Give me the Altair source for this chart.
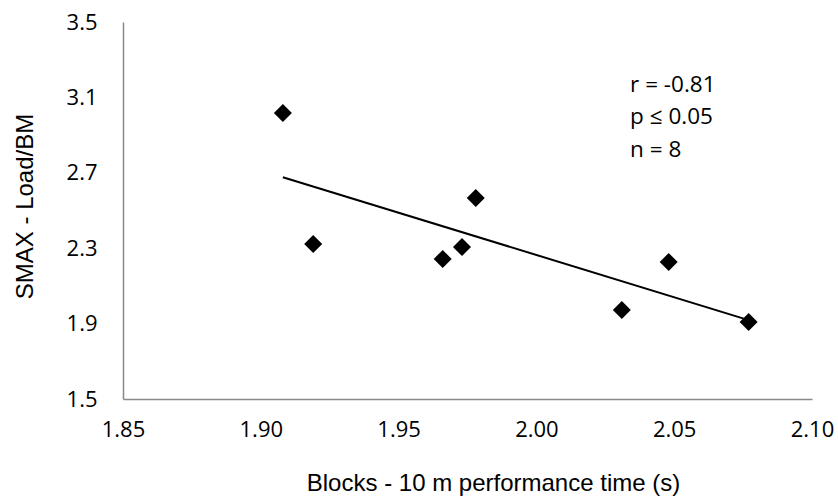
import altair as alt
import pandas as pd

# Data
blocks_time = [1.908, 1.919, 1.966, 1.973, 1.978, 2.031, 2.048, 2.077]
smax_load_bm = [3.017, 2.322, 2.243, 2.306, 2.566, 1.972, 2.227, 1.908]

x_ticks = [1.85, 1.90, 1.95, 2.00, 2.05, 2.10]
y_ticks = [1.5, 1.9, 2.3, 2.7, 3.1, 3.5]

note_lines = ["r = -0.81", "p \u2264 0.05", "n = 8"]
note_x = [2.034, 2.034, 2.034]
note_y = [3.129, 2.959, 2.784]

df = pd.DataFrame({"x": blocks_time, "y": smax_load_bm})
notes = pd.DataFrame({"x": note_x, "y": note_y, "t": note_lines})

xscale = alt.Scale(domain=[1.85, 2.10], nice=False, zero=False)
yscale = alt.Scale(domain=[1.5, 3.5], nice=False, zero=False)

xaxis = alt.Axis(
    title="Blocks - 10 m performance time (s)",
    values=x_ticks, format=".2f", grid=False, ticks=False,
    domainColor="#898989", domainWidth=1.5,
    labelFont="Open Sans", labelFontSize=22, labelColor="#000000",
    labelPadding=20, labelFlush=False,
    titleFont="Liberation Sans", titleFontSize=24, titleFontWeight="normal",
    titleColor="#000000", titleX=370, titleY=91, titleBaseline="alphabetic",
    titleAlign="center",
)
yaxis = alt.Axis(
    title="SMAX - Load/BM",
    values=y_ticks, format=".1f", grid=False, ticks=False,
    domainColor="#898989", domainWidth=1.5,
    labelFont="Open Sans", labelFontSize=22, labelColor="#000000",
    labelPadding=26, labelFlush=False,
    titleFont="Liberation Sans", titleFontSize=24, titleFontWeight="normal",
    titleColor="#000000", titleX=-98, titleY=184, titleAngle=-90,
    titleBaseline="middle", titleAlign="center",
)

base = alt.Chart(df)

points = base.mark_point(shape="diamond", filled=True, size=324, color="#000000", opacity=1).encode(
    x=alt.X("x:Q", scale=xscale, axis=xaxis),
    y=alt.Y("y:Q", scale=yscale, axis=yaxis),
)

trend = base.transform_regression("x", "y").mark_line(color="#000000", strokeWidth=2).encode(
    x=alt.X("x:Q", scale=xscale),
    y=alt.Y("y:Q", scale=yscale),
)

text = alt.Chart(notes).mark_text(
    align="left", baseline="alphabetic", font="Open Sans", fontSize=22.5, color="#000000"
).encode(
    x=alt.X("x:Q", scale=xscale),
    y=alt.Y("y:Q", scale=yscale),
    text="t:N",
)

chart = alt.layer(trend, points, text).properties(
    width=689, height=377,
    padding={"left": 123, "top": 22, "right": 26, "bottom": 105},
    autosize=alt.AutoSizeParams(type="none"),
    background="#ffffff",
).configure_view(stroke=None)

chart.save("out.html", embed_options={"renderer": "svg", "actions": False})
